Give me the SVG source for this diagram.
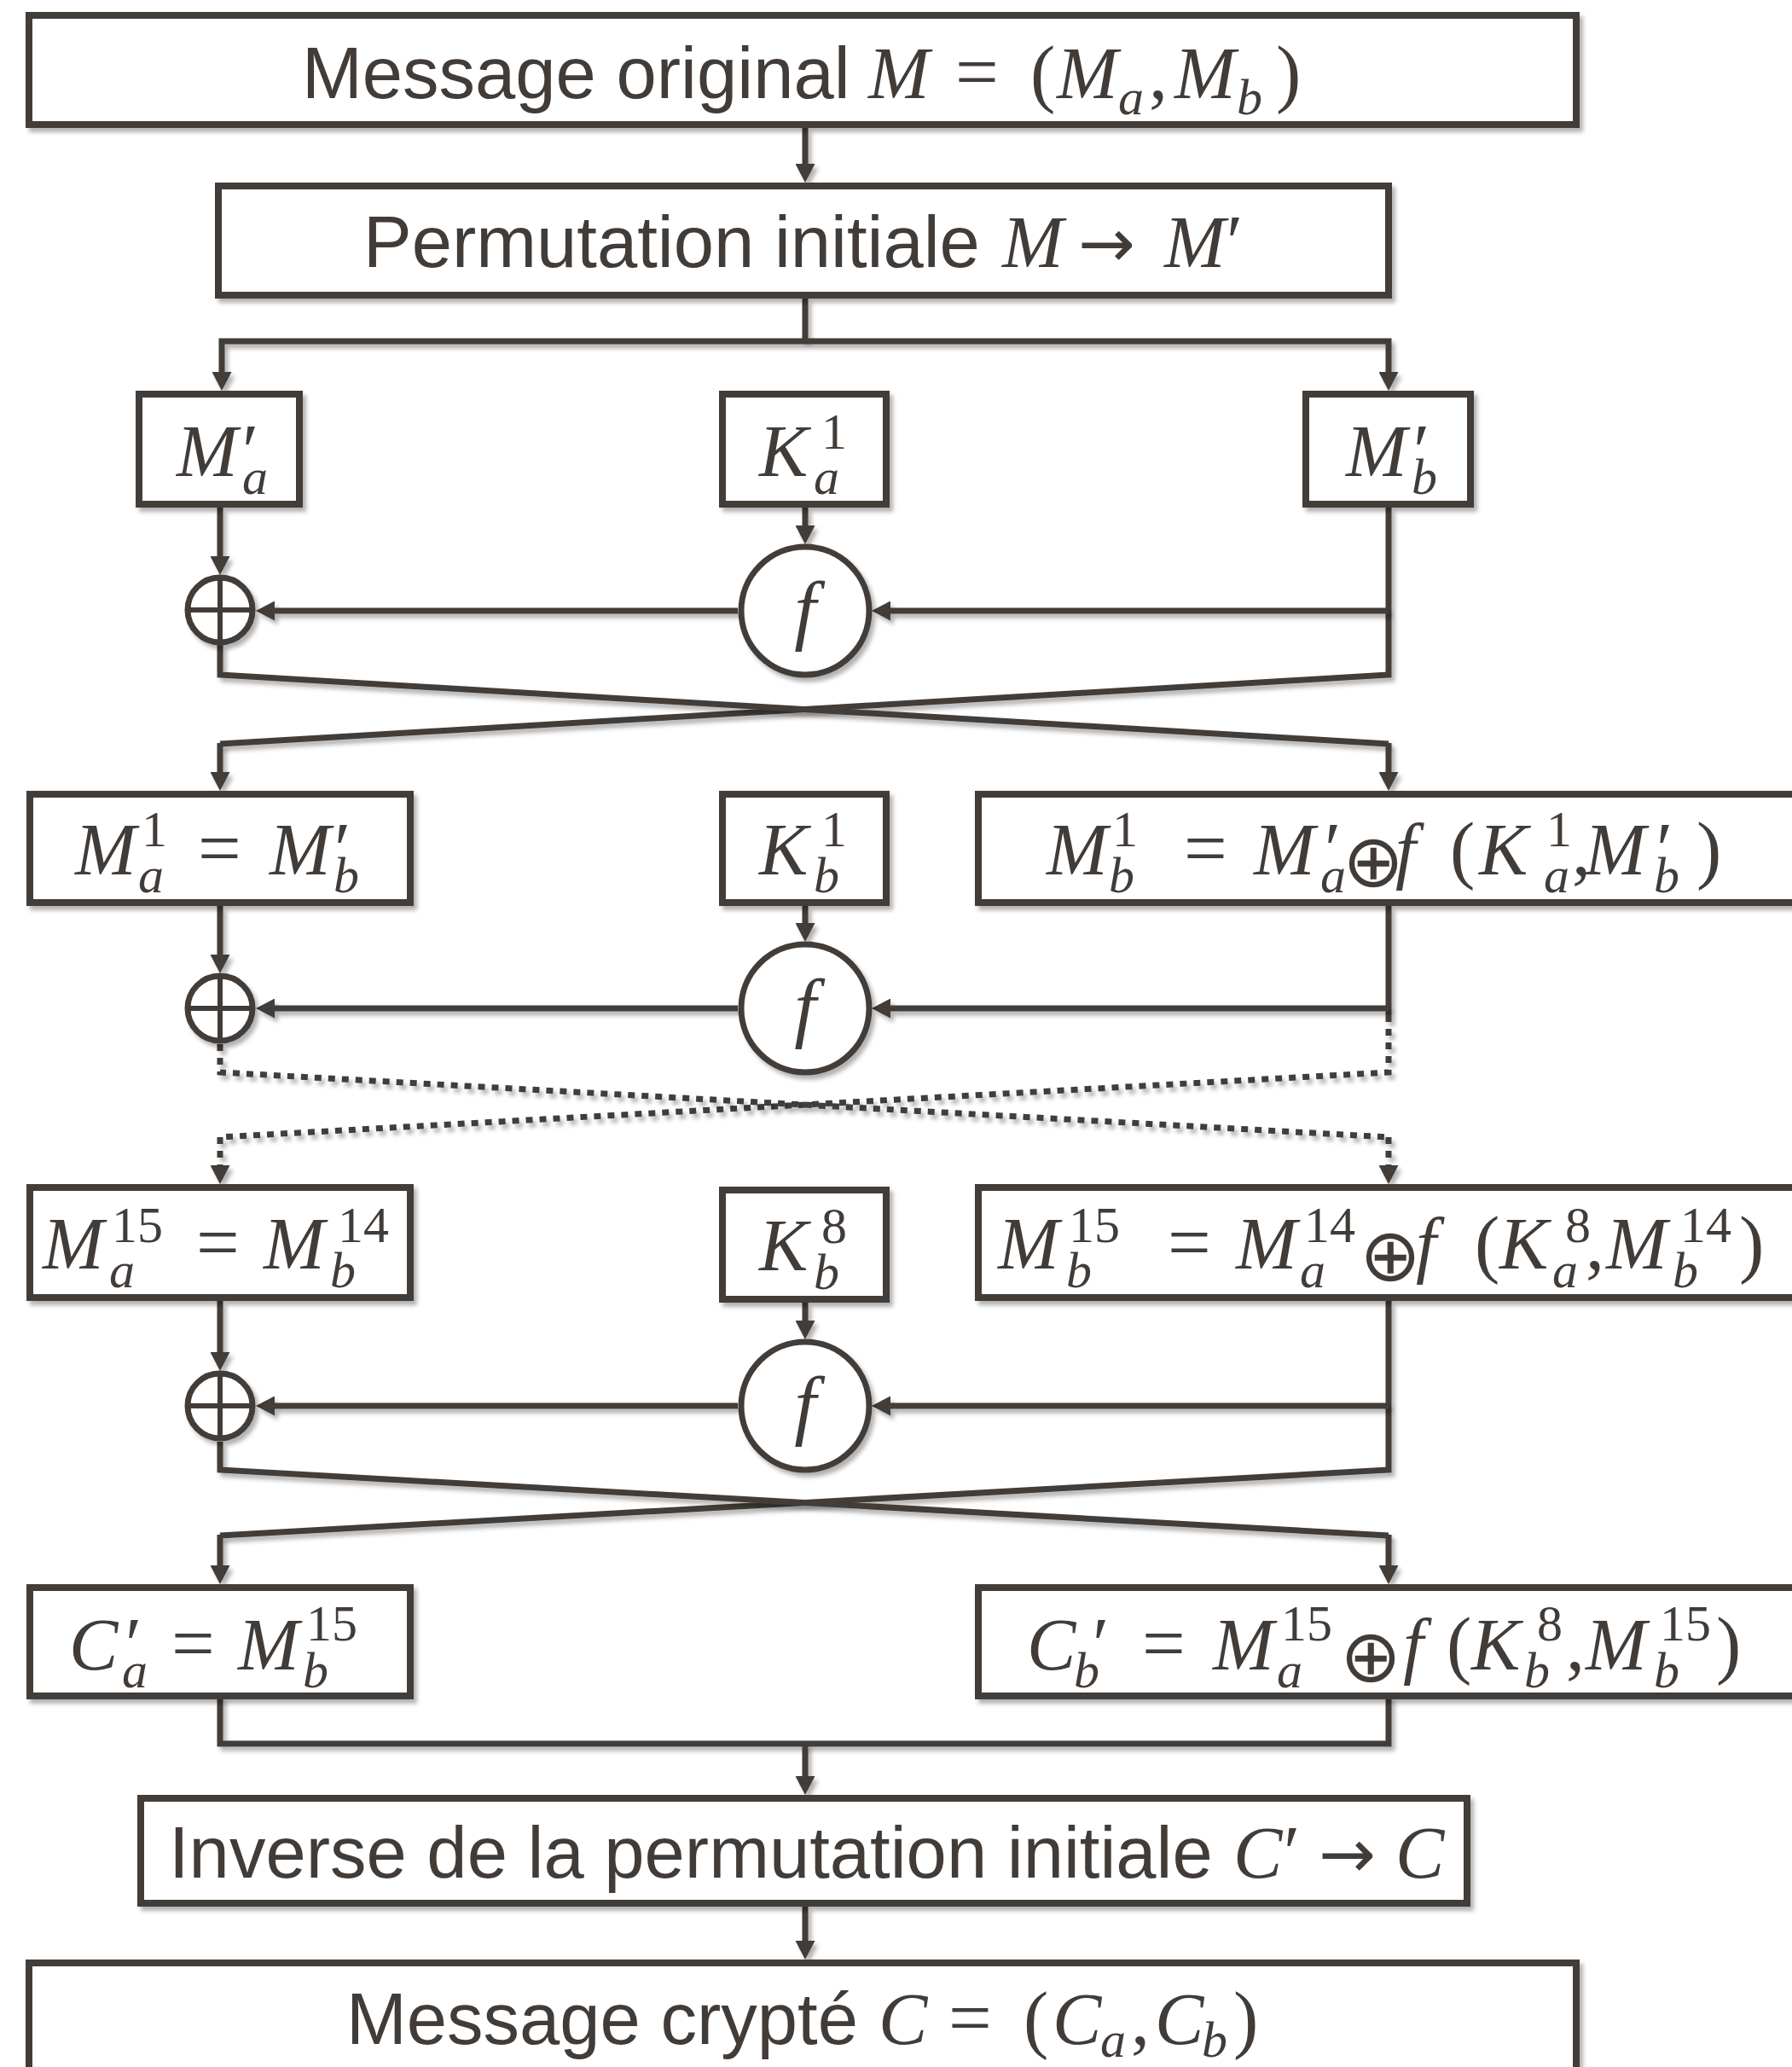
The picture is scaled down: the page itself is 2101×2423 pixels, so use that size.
<svg xmlns="http://www.w3.org/2000/svg" width="2101" height="2423" viewBox="0 0 2101 2423">
<style>
.bx{fill:#fff;stroke:#423c39;stroke-width:8;filter:url(#sh)}
.ci{fill:#fff;stroke:#423c39;stroke-width:7;filter:url(#sh)}
.cr{stroke:#423c39;stroke-width:6;fill:none}
.ln{fill:none;stroke:#423c39;stroke-width:7;stroke-linejoin:miter;filter:url(#sh)}
.ar{marker-end:url(#ah)}
.dt{stroke-dasharray:8 8}
text{fill:#423c39}
.sans{font-family:"Liberation Sans",Arial,sans-serif;font-size:85px}
.mi{font-family:"Liberation Serif",serif;font-style:italic;font-size:86px}
.sb{font-family:"Liberation Serif",serif;font-style:italic;font-size:60px}
.sp{font-family:"Liberation Serif",serif;font-size:60px}
.up{font-family:"Liberation Serif",serif;font-size:88px}
.eq{font-family:"Liberation Serif",serif;font-size:90px}
.ox{font-family:"DejaVu Sans",sans-serif;font-size:86px}
.to{font-family:"DejaVu Sans",sans-serif;font-size:80px}
.fx{font-family:"Liberation Serif",serif;font-style:italic;font-size:92px}
</style>
<defs>
<filter id="sh" filterUnits="userSpaceOnUse" x="0" y="0" width="2101" height="2423">
<feDropShadow dx="4" dy="5" stdDeviation="2.5" flood-color="#000" flood-opacity="0.3"/>
</filter>
<marker id="ah" viewBox="0 0 22 23" refX="12" refY="11.5" markerWidth="22" markerHeight="23" markerUnits="userSpaceOnUse" orient="auto">
<path d="M0,0 L22,11.5 L0,23 Z" fill="#423c39"/>
</marker>
</defs>
<g id="connectors">
<path class="ln ar" d="M944,150 V204"/>
<path class="ln" d="M944,350 V400"/>
<path class="ln ar" d="M944,400 H260 V448"/>
<path class="ln ar" d="M944,400 H1628 V448"/>
<path class="ln ar" d="M258,595 V664"/>
<path class="ln ar" d="M944,595 V628"/>
<path class="ln" d="M1628,595 V791 L258,872"/>
<path class="ln ar" d="M258,871 V917"/>
<path class="ln" d="M258,755 V791 L1628,872"/>
<path class="ln ar" d="M1628,871 V917"/>
<path class="ln ar" d="M1628,716 H1032"/>
<path class="ln ar" d="M865,716 H310"/>
<path class="ln ar" d="M258,1062 V1131"/>
<path class="ln ar" d="M944,1062 V1094"/>
<path class="ln" d="M1628,1062 V1190"/>
<path class="ln ar" d="M1628,1182 H1032"/>
<path class="ln ar" d="M865,1182 H310"/>
<path class="ln dt" d="M1628,1190 V1257 L258,1333"/>
<path class="ln dt" d="M258,1224 V1257 L1628,1333"/>
<path class="ln dt ar" d="M258,1333 V1378"/>
<path class="ln dt ar" d="M1628,1333 V1378"/>
<path class="ln ar" d="M258,1525 V1597"/>
<path class="ln ar" d="M944,1527 V1560"/>
<path class="ln" d="M1628,1525 V1723 L258,1800"/>
<path class="ln" d="M258,1690 V1723 L1628,1800"/>
<path class="ln ar" d="M258,1799 V1847"/>
<path class="ln ar" d="M1628,1799 V1847"/>
<path class="ln ar" d="M1628,1648 H1032"/>
<path class="ln ar" d="M865,1648 H310"/>
<path class="ln" d="M258,1988 V2044 H1628 V1988"/>
<path class="ln ar" d="M944,2044 V2094"/>
<path class="ln ar" d="M944,2235 V2287"/>
</g>
<g id="n-message">
<rect class="bx" x="34" y="18" width="1814" height="128"/>
<text y="115"><tspan class="sans" x="354">Message original</tspan><tspan class="mi" x="1018">M</tspan><tspan class="eq" x="1120">=</tspan><tspan class="up" x="1208">(</tspan><tspan class="mi" x="1239">M</tspan><tspan class="sb" x="1311" y="134">a</tspan><tspan class="up" x="1347" y="115">,</tspan><tspan class="mi" x="1377">M</tspan><tspan class="sb" x="1450" y="134">b</tspan><tspan class="up" x="1496" y="115">)</tspan></text>
</g>
<g id="n-perm">
<rect class="bx" x="256" y="218" width="1372" height="128"/>
<text y="313"><tspan class="sans" x="426">Permutation initiale</tspan><tspan class="mi" x="1175">M</tspan><tspan class="to" x="1264">→</tspan><tspan class="mi" x="1365">M</tspan><tspan class="up" x="1438">′</tspan></text>
</g>
<g id="n-ma0">
<rect class="bx" x="163" y="462" width="188" height="129"/>
<text y="558"><tspan class="mi" x="207">M</tspan><tspan class="up" x="284">′</tspan><tspan class="sb" x="284" y="579">a</tspan></text>
</g>
<g id="n-ka1">
<rect class="bx" x="847" y="462" width="192" height="129"/>
<text y="558"><tspan class="mi" x="890">K</tspan><tspan class="sp" x="963" y="526">1</tspan><tspan class="sb" x="954" y="579">a</tspan></text>
</g>
<g id="n-mb0">
<rect class="bx" x="1531" y="462" width="193" height="129"/>
<text y="558"><tspan class="mi" x="1578">M</tspan><tspan class="up" x="1657">′</tspan><tspan class="sb" x="1655" y="579">b</tspan></text>
</g>
<g id="n-xor1">
<circle class="ci" cx="258" cy="715" r="38"/>
<path class="cr" d="M258,677 V753 M220,715 H296"/>
</g>
<g id="n-f1">
<circle class="ci" cx="944" cy="716" r="75"/>
<text class="fx" x="944" y="745" text-anchor="middle">f</text>
</g>
<g id="n-ma1">
<rect class="bx" x="35" y="931" width="446" height="127"/>
<text y="1025"><tspan class="mi" x="88">M</tspan><tspan class="sp" x="166" y="992">1</tspan><tspan class="sb" x="162" y="1046">a</tspan><tspan class="eq" x="232" y="1025">=</tspan><tspan class="mi" x="316">M</tspan><tspan class="up" x="392">′</tspan><tspan class="sb" x="391" y="1046">b</tspan></text>
</g>
<g id="n-kb1">
<rect class="bx" x="847" y="931" width="192" height="127"/>
<text y="1025"><tspan class="mi" x="890">K</tspan><tspan class="sp" x="963" y="992">1</tspan><tspan class="sb" x="954" y="1046">b</tspan></text>
</g>
<g id="n-mb1">
<rect class="bx" x="1147" y="931" width="1000" height="127"/>
<text y="1025"><tspan class="mi" x="1227">M</tspan><tspan class="sp" x="1304" y="992">1</tspan><tspan class="sb" x="1300" y="1046">b</tspan><tspan class="eq" x="1388" y="1025">=</tspan><tspan class="mi" x="1470">M</tspan><tspan class="up" x="1553">′</tspan><tspan class="sb" x="1548" y="1046">a</tspan><tspan class="ox" x="1574" y="1039">⊕</tspan><tspan class="mi" x="1636" y="1025">f</tspan><tspan class="up" x="1700">(</tspan><tspan class="mi" x="1734">K</tspan><tspan class="sp" x="1813" y="992">1</tspan><tspan class="sb" x="1810" y="1046">a</tspan><tspan class="up" x="1843" y="1025">,</tspan><tspan class="mi" x="1858">M</tspan><tspan class="up" x="1942">′</tspan><tspan class="sb" x="1939" y="1046">b</tspan><tspan class="up" x="1989" y="1025">)</tspan></text>
</g>
<g id="n-xor2">
<circle class="ci" cx="258" cy="1182" r="38"/>
<path class="cr" d="M258,1144 V1220 M220,1182 H296"/>
</g>
<g id="n-f2">
<circle class="ci" cx="944" cy="1182" r="75"/>
<text class="fx" x="944" y="1211" text-anchor="middle">f</text>
</g>
<g id="n-ma15">
<rect class="bx" x="35" y="1392" width="446" height="129"/>
<text y="1487"><tspan class="mi" x="50">M</tspan><tspan class="sp" x="131" y="1456">15</tspan><tspan class="sb" x="128" y="1509">a</tspan><tspan class="eq" x="230" y="1487">=</tspan><tspan class="mi" x="309">M</tspan><tspan class="sp" x="396" y="1456">14</tspan><tspan class="sb" x="387" y="1509">b</tspan></text>
</g>
<g id="n-kb8">
<rect class="bx" x="847" y="1395" width="192" height="128"/>
<text y="1489"><tspan class="mi" x="890">K</tspan><tspan class="sp" x="963" y="1457">8</tspan><tspan class="sb" x="954" y="1511">b</tspan></text>
</g>
<g id="n-mb15">
<rect class="bx" x="1147" y="1392" width="1000" height="129"/>
<text y="1487"><tspan class="mi" x="1170">M</tspan><tspan class="sp" x="1253" y="1456">15</tspan><tspan class="sb" x="1250" y="1509">b</tspan><tspan class="eq" x="1369" y="1487">=</tspan><tspan class="mi" x="1449">M</tspan><tspan class="sp" x="1529" y="1456">14</tspan><tspan class="sb" x="1524" y="1509">a</tspan><tspan class="ox" x="1594" y="1501">⊕</tspan><tspan class="mi" x="1660" y="1487">f</tspan><tspan class="up" x="1729">(</tspan><tspan class="mi" x="1758">K</tspan><tspan class="sp" x="1835" y="1456">8</tspan><tspan class="sb" x="1820" y="1509">a</tspan><tspan class="up" x="1859" y="1487">,</tspan><tspan class="mi" x="1883">M</tspan><tspan class="sp" x="1970" y="1456">14</tspan><tspan class="sb" x="1961" y="1509">b</tspan><tspan class="up" x="2039" y="1487">)</tspan></text>
</g>
<g id="n-xor3">
<circle class="ci" cx="258" cy="1648" r="38"/>
<path class="cr" d="M258,1610 V1686 M220,1648 H296"/>
</g>
<g id="n-f3">
<circle class="ci" cx="944" cy="1648" r="75"/>
<text class="fx" x="944" y="1677" text-anchor="middle">f</text>
</g>
<g id="n-ca">
<rect class="bx" x="35" y="1861" width="446" height="127"/>
<text y="1957"><tspan class="mi" x="81">C</tspan><tspan class="up" x="147">′</tspan><tspan class="sb" x="143" y="1978">a</tspan><tspan class="eq" x="201" y="1957">=</tspan><tspan class="mi" x="279">M</tspan><tspan class="sp" x="359" y="1923">15</tspan><tspan class="sb" x="355" y="1978">b</tspan></text>
</g>
<g id="n-cb">
<rect class="bx" x="1147" y="1861" width="1000" height="127"/>
<text y="1957"><tspan class="mi" x="1204">C</tspan><tspan class="up" x="1281">′</tspan><tspan class="sb" x="1259" y="1978">b</tspan><tspan class="eq" x="1339" y="1957">=</tspan><tspan class="mi" x="1422">M</tspan><tspan class="sp" x="1502" y="1923">15</tspan><tspan class="sb" x="1497" y="1978">a</tspan><tspan class="ox" x="1571" y="1971">⊕</tspan><tspan class="mi" x="1645" y="1957">f</tspan><tspan class="up" x="1696">(</tspan><tspan class="mi" x="1725">K</tspan><tspan class="sp" x="1802" y="1923">8</tspan><tspan class="sb" x="1787" y="1978">b</tspan><tspan class="up" x="1836" y="1957">,</tspan><tspan class="mi" x="1859">M</tspan><tspan class="sp" x="1946" y="1923">15</tspan><tspan class="sb" x="1939" y="1978">b</tspan><tspan class="up" x="2012" y="1957">)</tspan></text>
</g>
<g id="n-inverse">
<rect class="bx" x="165" y="2108" width="1555" height="123"/>
<text y="2201"><tspan class="sans" x="198">Inverse de la permutation initiale</tspan><tspan class="mi" x="1446">C</tspan><tspan class="up" x="1505">′</tspan><tspan class="to" x="1546">→</tspan><tspan class="mi" x="1636">C</tspan></text>
</g>
<g id="n-crypte">
<rect class="bx" x="34" y="2301" width="1814" height="160"/>
<text y="2396"><tspan class="sans" x="406">Message crypté</tspan><tspan class="mi" x="1030">C</tspan><tspan class="eq" x="1112">=</tspan><tspan class="up" x="1200">(</tspan><tspan class="mi" x="1234">C</tspan><tspan class="sb" x="1290" y="2411">a</tspan><tspan class="up" x="1326" y="2396">,</tspan><tspan class="mi" x="1354">C</tspan><tspan class="sb" x="1409" y="2411">b</tspan><tspan class="up" x="1446" y="2396">)</tspan></text>
</g>
</svg>
